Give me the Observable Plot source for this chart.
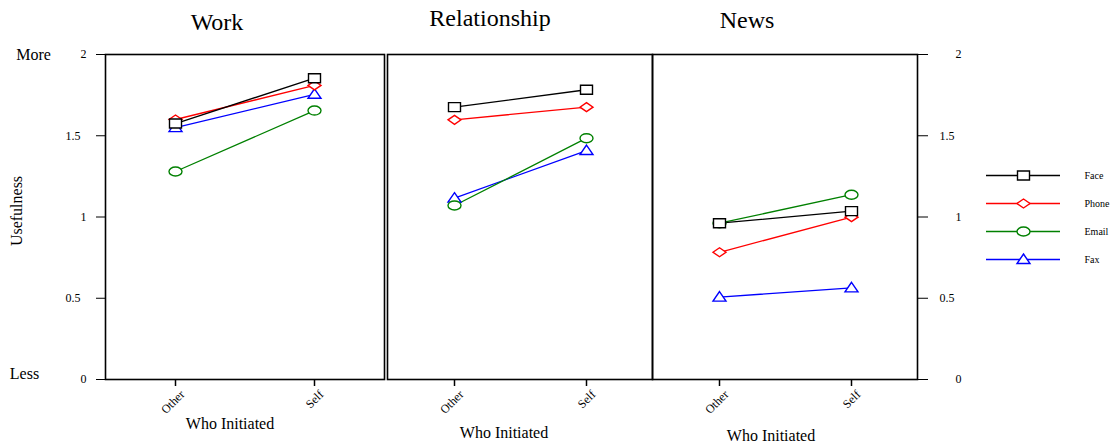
<!DOCTYPE html>
<html><head><meta charset="utf-8">
<script src="https://cdn.jsdelivr.net/npm/d3@7"></script>
<script src="https://cdn.jsdelivr.net/npm/@observablehq/plot@0.6"></script>
<style>
body{margin:0;background:#fff;}
#chart{position:relative;width:1115px;height:448px;overflow:hidden;background:#fff;}
#chart svg{position:absolute;left:0;top:0;overflow:visible;}
</style></head><body><div id="chart"></div>
<script>
// ---- data ----
const panels = ["Work", "Relationship", "News"];
const initiators = ["Other", "Self"];
const seriesNames = ["Face", "Phone", "Email", "Fax"];
const seriesColors = ["#000000", "#ff0000", "#008000", "#0000ff"];
const intTicks = [0, 1, 2];
const halfTicks = [0.5, 1.5];
const endLabels = ["More", "Less"];
const endValues = [2, 0];
const xTitle = "Who Initiated";
const yTitle = "Usefulness";
// values per panel: [Other, Self]
const faceValues  = [[1.575, 1.854], [1.676, 1.783], [0.962, 1.036]];
const phoneValues = [[1.60, 1.81],   [1.598, 1.676], [0.783, 0.999]];
const emailValues = [[1.28, 1.655],  [1.071, 1.485], [0.962, 1.137]];
const faxValues   = [[1.55, 1.755],  [1.116, 1.409], [0.507, 0.564]];

// ---- layout (not data) ----
const W = 1115, H = 448;
const layout = [
  {left: 105, right: 384, titleDx: -28, titleDy: -32, labDx: -15, labDy: 44},
  {left: 387, right: 652, titleDx: -30, titleDy: -36, labDx: -16, labDy: 53},
  {left: 652, right: 917, titleDx: -38, titleDy: -34, labDx: -14, labDy: 56}
];
const FONT = "'Liberation Serif', 'Times New Roman', serif";

const valuesBySeries = {Face: faceValues, Phone: phoneValues, Email: emailValues, Fax: faxValues};
const table = [];
panels.forEach((p, pi) => seriesNames.forEach(s => initiators.forEach((w, wi) => {
  table.push({panel: p, who: w, series: s, value: valuesBySeries[s][pi][wi]});
})));

// custom (slightly wide) hollow symbols
const symbols = {
  Face: {draw(c) { c.moveTo(-6, -4.5); c.lineTo(6, -4.5); c.lineTo(6, 4.5); c.lineTo(-6, 4.5); c.closePath(); }},
  Phone: {draw(c) { c.moveTo(0, -4.5); c.lineTo(6.5, 0); c.lineTo(0, 4.5); c.lineTo(-6.5, 0); c.closePath(); }},
  Email: {draw(c) { const rx = 6.5, ry = 4.5, k = 0.5523;
    c.moveTo(rx, 0);
    c.bezierCurveTo(rx, ry * k, rx * k, ry, 0, ry);
    c.bezierCurveTo(-rx * k, ry, -rx, ry * k, -rx, 0);
    c.bezierCurveTo(-rx, -ry * k, -rx * k, -ry, 0, -ry);
    c.bezierCurveTo(rx * k, -ry, rx, -ry * k, rx, 0);
    c.closePath(); }},
  Fax: {draw(c) { c.moveTo(0, -5.5); c.lineTo(6.5, 4); c.lineTo(-6.5, 4); c.closePath(); }}
};
const drawOrder = ["Fax", "Email", "Phone", "Face"];
const color = {domain: seriesNames, range: seriesColors};
const baseStyle = {fontFamily: FONT, fontSize: "12px", background: "transparent", overflow: "visible", color: "black"};

const chart = document.getElementById("chart");

panels.forEach((p, i) => {
  const L = layout[i];
  const rows = table.filter(d => d.panel === p);
  const marks = [];
  marks.push(Plot.frame({stroke: "black", strokeWidth: 1.6}));
  for (const s of drawOrder) {
    const sr = rows.filter(d => d.series === s);
    marks.push(Plot.line(sr, {x: "who", y: "value", stroke: "series", strokeWidth: 1.3}));
  }
  for (const s of drawOrder) {
    const sr = rows.filter(d => d.series === s);
    marks.push(Plot.dot(sr, {x: "who", y: "value", stroke: "series", fill: "white", strokeWidth: 1.4, symbol: symbols[s]}));
  }
  // tick lines only
  marks.push(Plot.axisX({tickSize: 7, tickFormat: () => "", label: null, strokeWidth: 1.5}));
  // rotated tick labels only
  marks.push(Plot.axisX({tickSize: 0, tickRotate: -45, fontSize: 12, tickPadding: 11, dx: 7, dy: 2, label: null}));
  marks.push(Plot.text([p], {frameAnchor: "top", lineAnchor: "middle", textAnchor: "middle", dx: L.titleDx, dy: L.titleDy, fontSize: 24}));
  marks.push(Plot.text([xTitle], {frameAnchor: "bottom", lineAnchor: "middle", textAnchor: "middle", dx: L.labDx, dy: L.labDy, fontSize: 16}));
  if (i === 0) {
    marks.push(Plot.axisY({ticks: intTicks, anchor: "left", tickSize: 9, tickPadding: 10, tickFormat: d => String(d), label: null, fontSize: 12}));
    marks.push(Plot.axisY({ticks: halfTicks, anchor: "left", tickSize: 9, tickPadding: 16, tickFormat: d => String(d), label: null, fontSize: 12}));
    marks.push(Plot.text([yTitle], {frameAnchor: "left", textAnchor: "middle", lineAnchor: "middle", rotate: -90, dx: -89, dy: -6, fontSize: 16}));
    marks.push(Plot.text([endLabels[0]], {y: () => endValues[0], frameAnchor: "left", textAnchor: "middle", lineAnchor: "middle", dx: -72, fontSize: 16}));
    marks.push(Plot.text([endLabels[1]], {y: () => endValues[1], frameAnchor: "left", textAnchor: "middle", lineAnchor: "middle", dx: -81, dy: -6, fontSize: 16}));
  }
  if (i === 2) {
    marks.push(Plot.axisY({ticks: intTicks, anchor: "right", tickSize: 10, tickPadding: 28, tickFormat: d => String(d), label: null, fontSize: 12}));
    marks.push(Plot.axisY({ticks: halfTicks, anchor: "right", tickSize: 10, tickPadding: 12, tickFormat: d => String(d), label: null, fontSize: 12}));
  }
  const svg = Plot.plot({
    width: W, height: H,
    marginLeft: L.left, marginRight: W - L.right, marginTop: 54, marginBottom: 69,
    style: baseStyle,
    x: {type: "point", domain: initiators, padding: 0.5, axis: null},
    y: {domain: [0, 2], axis: null},
    color,
    marks
  });
  chart.appendChild(svg);
});

// legend
{
  const marks = [];
  marks.push(Plot.ruleY(seriesNames, {y: d => d, x1: () => 0, x2: () => 1, stroke: d => d, strokeWidth: 1.3}));
  for (const s of seriesNames) {
    marks.push(Plot.dot([s], {x: () => 0.5, y: d => d, stroke: d => d, fill: "white", strokeWidth: 1.4, symbol: symbols[s]}));
  }
  marks.push(Plot.text(seriesNames, {x: () => 1, y: d => d, dx: 24, textAnchor: "start", fontSize: 10}));
  const svg = Plot.plot({
    width: W, height: H,
    marginLeft: 986, marginRight: W - 1060, marginTop: 174, marginBottom: H - 259,
    style: baseStyle,
    x: {domain: [0, 1], axis: null},
    y: {type: "point", domain: seriesNames, padding: 0, axis: null},
    color,
    marks
  });
  chart.appendChild(svg);
}
</script></body></html>
